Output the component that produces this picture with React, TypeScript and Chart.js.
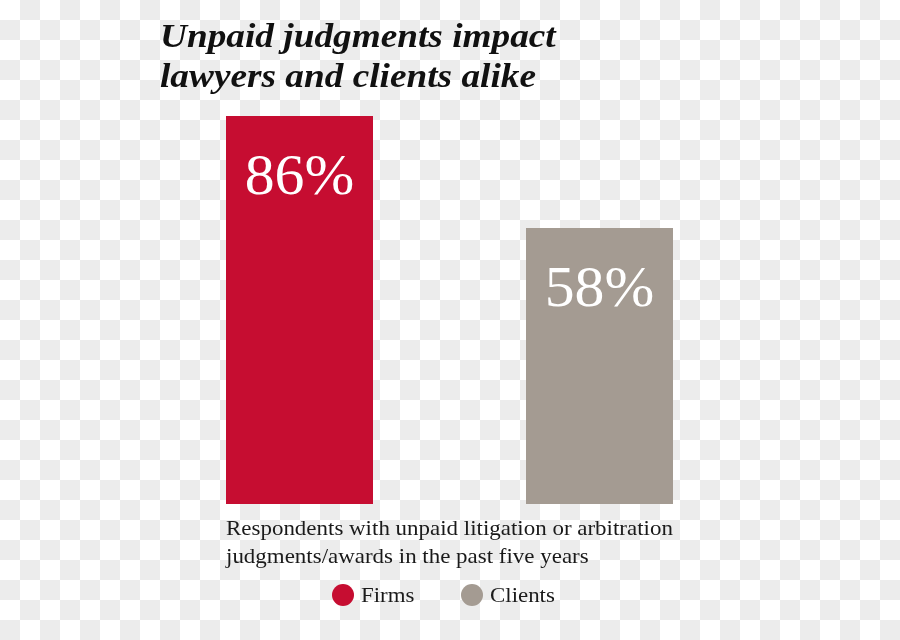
import React, { useEffect, useRef } from "react";
import { Chart, registerables } from "chart.js";

Chart.register(...registerables);

const titleLines = ["Unpaid judgments impact", "lawyers and clients alike"];
const categories = ["Firms", "Clients"];
const values = [86, 58];
const valueLabels = ["86%", "58%"];
const colors = ["#C60D31", "#A49B92"];
const captionLines = [
  "Respondents with unpaid litigation or arbitration",
  "judgments/awards in the past five years",
];
const axisMin = -11;
const axisMax = 86;

const SERIF = '"Liberation Serif", "Times New Roman", serif';

function drawStretched(ctx: CanvasRenderingContext2D, text: string, x: number, y: number, sx: number, align: CanvasTextAlign = "left") {
  ctx.save();
  ctx.translate(x, y);
  ctx.scale(sx, 1);
  ctx.textAlign = align;
  ctx.fillText(text, 0, 0);
  ctx.restore();
}

const overlayPlugin = {
  id: "overlay",
  afterDatasetsDraw(chart: any) {
    const ctx: CanvasRenderingContext2D = chart.ctx;
    ctx.save();
    ctx.textBaseline = "alphabetic";
    // value labels inside bars
    const meta = chart.getDatasetMeta(0);
    ctx.fillStyle = "#ffffff";
    ctx.font = `58px ${SERIF}`;
    meta.data.forEach((bar: any, i: number) => {
      drawStretched(ctx, valueLabels[i], bar.x, bar.y + 78, 1.03, "center");
    });

    // title
    ctx.fillStyle = "#111111";
    ctx.font = `italic bold 33px ${SERIF}`;
    titleLines.forEach((t, i) => drawStretched(ctx, t, 160, 47 + i * 40, 1.13));

    // caption
    ctx.fillStyle = "#1a1a1a";
    ctx.font = `21px ${SERIF}`;
    captionLines.forEach((t, i) => drawStretched(ctx, t, 226, 535 + i * 28, 1.093));

    // legend
    const legendX = [343, 472];
    categories.forEach((c, i) => {
      ctx.beginPath();
      ctx.fillStyle = colors[i];
      ctx.arc(legendX[i], 595, 11, 0, Math.PI * 2);
      ctx.fill();
      ctx.fillStyle = "#1a1a1a";
      drawStretched(ctx, c, legendX[i] + 18, 602, 1.09);
    });
    ctx.restore();
  },
};

export default function App() {
  const ref = useRef<HTMLCanvasElement | null>(null);
  useEffect(() => {
    if (!ref.current) return;
    const chart = new Chart(ref.current, {
      type: "bar",
      data: {
        labels: categories,
        datasets: [
          {
            label: "Respondents",
            data: values,
            backgroundColor: colors,
            borderWidth: 0,
            base: axisMin,
            categoryPercentage: 1,
            barPercentage: 0.49,
          } as any,
        ],
      },
      options: {
        responsive: false,
        animation: false,
        layout: { padding: { left: 149.5, right: 150.5, top: 116, bottom: 136 } },
        scales: {
          x: { display: false },
          y: { display: false, min: axisMin, max: axisMax },
        },
        plugins: {
          legend: { display: false },
          tooltip: { enabled: false },
          title: { display: false },
        },
      },
      plugins: [overlayPlugin],
    });
    return () => chart.destroy();
  }, []);

  return (
    <div
      style={{
        position: "fixed",
        left: 0,
        top: 0,
        width: 900,
        height: 640,
        backgroundColor: "#ffffff",
        backgroundImage:
          "conic-gradient(#ececec 0 25%, #ffffff 0 50%, #ececec 0 75%, #ffffff 0)",
        backgroundSize: "40px 40px",
      }}
    >
      <canvas ref={ref} width={900} height={640} style={{ display: "block" }} />
    </div>
  );
}
